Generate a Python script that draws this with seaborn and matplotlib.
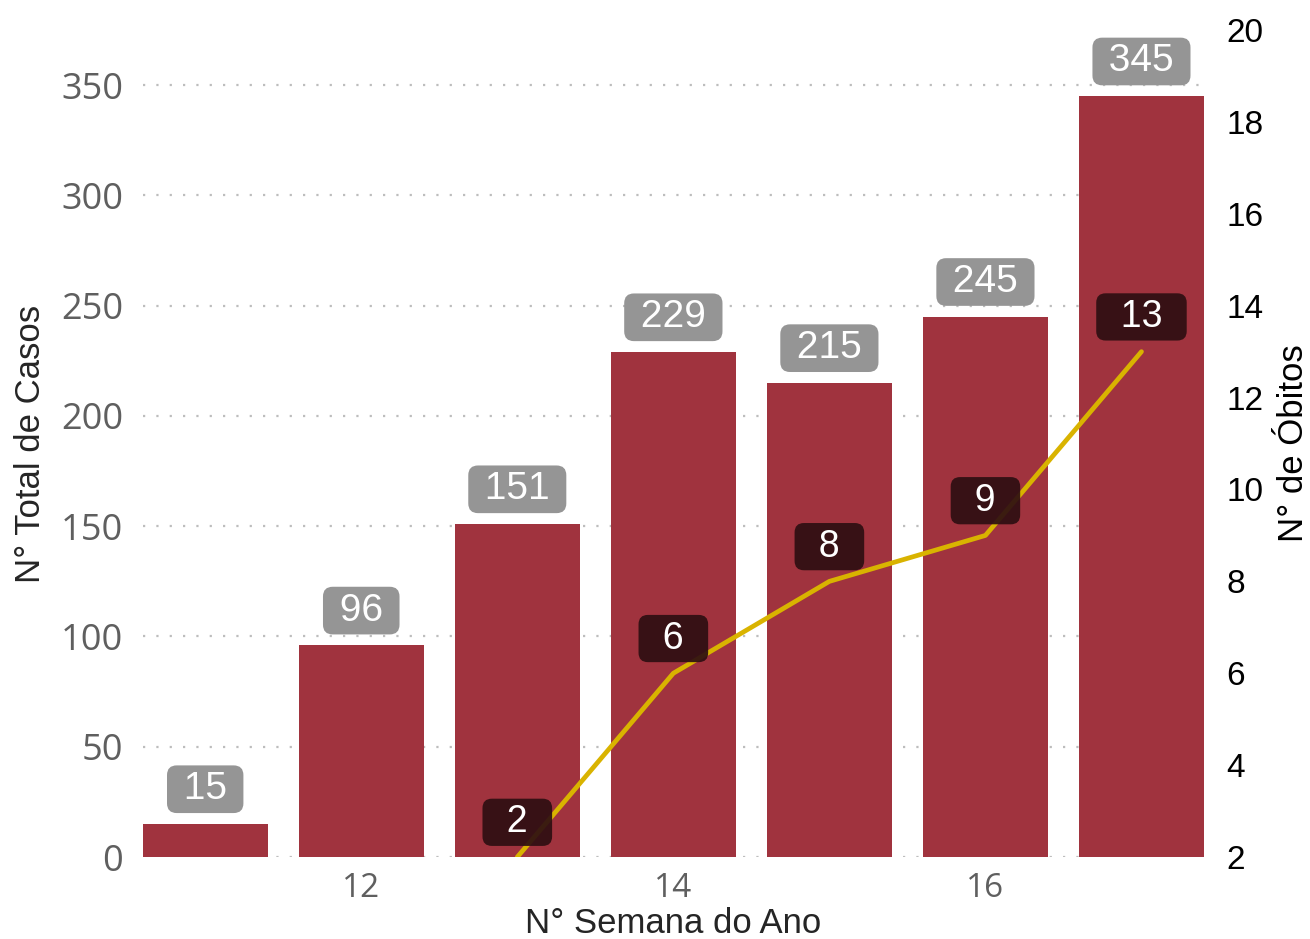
import matplotlib
import pandas as pd
import seaborn as sns

matplotlib.use("Agg")
import matplotlib.pyplot as plt  # noqa: E402

# weekly data
semanas = [11, 12, 13, 14, 15, 16, 17]
casos = [15, 96, 151, 229, 215, 245, 345]
semanas_obitos = [13, 14, 15, 16, 17]
obitos = [2, 6, 8, 9, 13]

BAR_COLOR = "#A0333E"
LINE_COLOR = "#D9B300"
GRAY_BOX = "#959595"
DARK_BOX = "#2E0F12"
TICK_GRAY = "#5f5f5f"

casos_df = pd.DataFrame({"semana": semanas, "casos": casos})
obitos_df = pd.DataFrame({"semana": semanas_obitos, "obitos": obitos})

sns.set_theme(style="white")
plt.rcParams["font.family"] = ["Liberation Sans", "DejaVu Sans"]

fig = plt.figure(figsize=(13.1, 9.39), dpi=100)
ax = fig.add_axes([0.109, 0.0873, 0.81, 0.8807])

sns.barplot(
    data=casos_df, x="semana", y="casos", native_scale=True,
    color=BAR_COLOR, saturation=1, width=0.8, edgecolor="none", ax=ax,
)
ax.set_xlim(10.6, 17.4)
ax.set_ylim(0, 375)
ax.set_yticks(range(0, 351, 50))
ax.set_xticks([12, 14, 16])
ax.set_axisbelow(True)
ax.yaxis.grid(True, linestyle=(0, (1, 5)), color="#bdbdbd", linewidth=1.6)
ax.xaxis.grid(False)
for side in ax.spines.values():
    side.set_visible(False)
ax.tick_params(axis="y", length=0, pad=14, labelsize=26, labelcolor=TICK_GRAY)
ax.tick_params(axis="x", length=0, pad=11, labelsize=24, labelcolor=TICK_GRAY)
for lbl in ax.get_xticklabels() + ax.get_yticklabels():
    lbl.set_family("Open Sans")
ax.set_xlabel("N° Semana do Ano", fontsize=25, color="#252525", labelpad=1)
ax.set_ylabel("N° Total de Casos", fontsize=25, color="#252525", labelpad=10)

for x, v in zip(semanas, casos):
    ax.annotate(
        f" {v} ", xy=(x, v), xytext=(0, 25), textcoords="offset points",
        ha="center", va="center", fontsize=28, color="white", zorder=5,
        bbox={"boxstyle": "round,pad=0.15,rounding_size=0.25",
              "facecolor": GRAY_BOX, "edgecolor": "none"},
    )

ax2 = ax.twinx()
sns.lineplot(
    data=obitos_df, x="semana", y="obitos", color=LINE_COLOR,
    linewidth=3.4, ax=ax2,
)
ax2.set_ylim(2, 20)
ax2.set_yticks(range(2, 21, 2))
ax2.set_xlim(10.6, 17.4)
ax2.grid(False)
for side in ax2.spines.values():
    side.set_visible(False)
ax2.tick_params(axis="y", length=0, pad=16, labelsize=24, labelcolor="black")
ax2.set_xlabel("")
ax2.set_ylabel("N° de Óbitos", fontsize=25, color="black", labelpad=10)

for x, v in zip(semanas_obitos, obitos):
    ax2.annotate(
        f"\u2002{v}\u2002", xy=(x, v), xytext=(0, 25),
        textcoords="offset points", ha="center", va="center", fontsize=27,
        color="white", zorder=6, annotation_clip=False,
        bbox={"boxstyle": "round,pad=0.15,rounding_size=0.25",
              "facecolor": DARK_BOX, "edgecolor": "none", "alpha": 0.92},
    )

fig.savefig("out.png", dpi=100)
